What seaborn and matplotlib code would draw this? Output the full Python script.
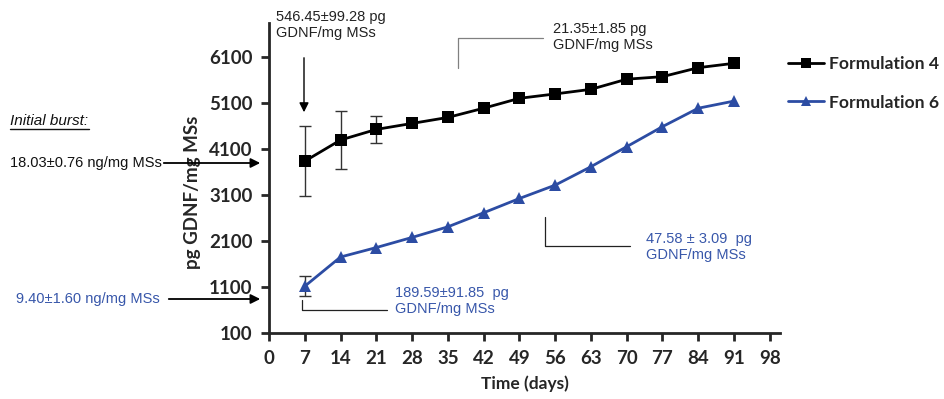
import numpy as np
import pandas as pd
import matplotlib
matplotlib.use("Agg")
import matplotlib.pyplot as plt
import seaborn as sns

days = [7, 14, 21, 28, 35, 42, 49, 56, 63, 70, 77, 84, 91]
f4_values = [3830, 4290, 4520, 4650, 4780, 4980, 5195, 5290, 5390, 5610, 5665, 5860, 5955]
f4_errors = [760, 630, 290, 0, 0, 0, 0, 0, 0, 0, 0, 0, 0]
f6_values = [1115, 1750, 1955, 2175, 2405, 2710, 3020, 3310, 3710, 4145, 4580, 4980, 5135]
f6_errors = [220, 0, 0, 0, 0, 0, 0, 0, 0, 0, 0, 0, 0]
series_names = ["Formulation 4", "Formulation 6"]
x_ticks = list(range(0, 99, 7))
y_ticks = [100, 1100, 2100, 3100, 4100, 5100, 6100]

BLACK = "#000000"
BLUE = "#2C4CA3"
TEXT_BLUE = "#3857AA"
GRAY = "#808080"

sns.set_theme(style="ticks")
plt.rcParams["font.family"] = ["Lato", "DejaVu Sans"]

W, H = 945, 399
fig = plt.figure(figsize=(W / 100, H / 100), dpi=100)
ax = fig.add_axes([269 / W, 1 - 333 / H, (780 - 269) / W, (333 - 23) / H])

df = pd.DataFrame({
    "day": days * 2,
    "value": f4_values + f6_values,
    "formulation": [series_names[0]] * len(days) + [series_names[1]] * len(days),
})

sns.lineplot(data=df, x="day", y="value", hue="formulation", style="formulation",
             markers={series_names[0]: "s", series_names[1]: "^"}, dashes=False,
             palette={series_names[0]: BLACK, series_names[1]: BLUE},
             markersize=8, linewidth=2, markeredgewidth=0, ax=ax, legend=True, zorder=3)

# error bars only where a spread was measured
for vals, errs in [(f4_values, f4_errors), (f6_values, f6_errors)]:
    d = np.array(days)
    v = np.array(vals, dtype=float)
    e = np.array(errs, dtype=float)
    m = e > 0
    ax.errorbar(d[m], v[m], yerr=e[m], fmt="none", ecolor="#333333",
                elinewidth=1, capsize=4, capthick=1, zorder=2)

ax.set_xlim(0, 100)
ax.set_ylim(100, 6830)
ax.set_xticks(x_ticks)
ax.set_yticks(y_ticks)
ax.tick_params(axis="both", direction="out", length=6, width=2, labelsize=13.5, pad=6)
for lab in ax.get_xticklabels() + ax.get_yticklabels():
    lab.set_fontweight("bold")
for s in ["left", "bottom"]:
    ax.spines[s].set_linewidth(2)
sns.despine(ax=ax)
ax.set_xlabel("Time (days)", fontsize=12.5, fontweight="bold", labelpad=6)
ax.set_ylabel("pg GDNF/mg MSs", fontsize=13.5, fontweight="bold")
ax.yaxis.set_label_coords((201 - 269) / 511, 1 - (192 - 23) / 310)

handles, labels = ax.get_legend_handles_labels()
for h in handles:
    h.set_markersize(7)
ax.legend(handles, labels, loc="upper left", bbox_to_anchor=(772 / W, 1 - 40 / H),
          bbox_transform=fig.transFigure, frameon=False,
          handlelength=2.1, labelspacing=1.3, handletextpad=0.25,
          prop={"weight": "bold", "size": 12.6})


def fx(x):
    return x / W


def fy(y):
    return 1 - y / H


note_font = dict(family=["Liberation Sans", "DejaVu Sans"], fontsize=10.5)

# initial burst notes on the left
fig.text(fx(10), fy(121), "Initial burst:", style="italic", va="center", ha="left",
         color="#111111", family=["Liberation Sans", "DejaVu Sans"], fontsize=11)
fig.add_artist(plt.Line2D([fx(10), fx(89)], [fy(129), fy(129)], color="#111111", lw=1.0))
fig.text(fx(10), fy(163), "18.03±0.76 ng/mg MSs", va="center", ha="left",
         color="#111111", **note_font)
ax.annotate("", xy=(fx(263), fy(163)), xytext=(fx(161), fy(163)),
            xycoords="figure fraction", textcoords="figure fraction",
            arrowprops=dict(arrowstyle="-|>", color="black", lw=1.3, mutation_scale=14),
            annotation_clip=False)
fig.text(fx(16), fy(299), "9.40±1.60 ng/mg MSs", va="center", ha="left",
         color=TEXT_BLUE, **note_font)
ax.annotate("", xy=(fx(263), fy(299)), xytext=(fx(166), fy(299)),
            xycoords="figure fraction", textcoords="figure fraction",
            arrowprops=dict(arrowstyle="-|>", color="black", lw=1.3, mutation_scale=14),
            annotation_clip=False)

# first-week release, Formulation 4
fig.text(fx(276), fy(25), "546.45±99.28 pg\nGDNF/mg MSs", va="center", ha="left",
         color="#222222", linespacing=1.2, **note_font)
ax.annotate("", xy=(fx(304), fy(115)), xytext=(fx(304), fy(55)),
            xycoords="figure fraction", textcoords="figure fraction",
            arrowprops=dict(arrowstyle="-|>", color="black", lw=1.0, mutation_scale=14),
            annotation_clip=False)

# weekly release, Formulation 4
fig.add_artist(plt.Line2D([fx(458), fx(458), fx(543)], [fy(68), fy(38), fy(38)],
                          color=GRAY, lw=0.9))
fig.text(fx(553), fy(37), "21.35±1.85 pg\nGDNF/mg MSs", va="center", ha="left",
         color="#222222", linespacing=1.2, **note_font)

# first-week release, Formulation 6
fig.add_artist(plt.Line2D([fx(302), fx(302), fx(387)], [fy(300), fy(310), fy(310)],
                          color="#222222", lw=0.9))
fig.text(fx(395), fy(301), "189.59±91.85  pg\nGDNF/mg MSs", va="center", ha="left",
         color=TEXT_BLUE, linespacing=1.2, **note_font)

# weekly release, Formulation 6
fig.add_artist(plt.Line2D([fx(545), fx(545), fx(630)], [fy(217), fy(246), fy(246)],
                          color="#222222", lw=0.9))
fig.text(fx(646), fy(247), "47.58 ± 3.09  pg\nGDNF/mg MSs", va="center", ha="left",
         color=TEXT_BLUE, linespacing=1.2, **note_font)

fig.savefig("out.png", dpi=100)
